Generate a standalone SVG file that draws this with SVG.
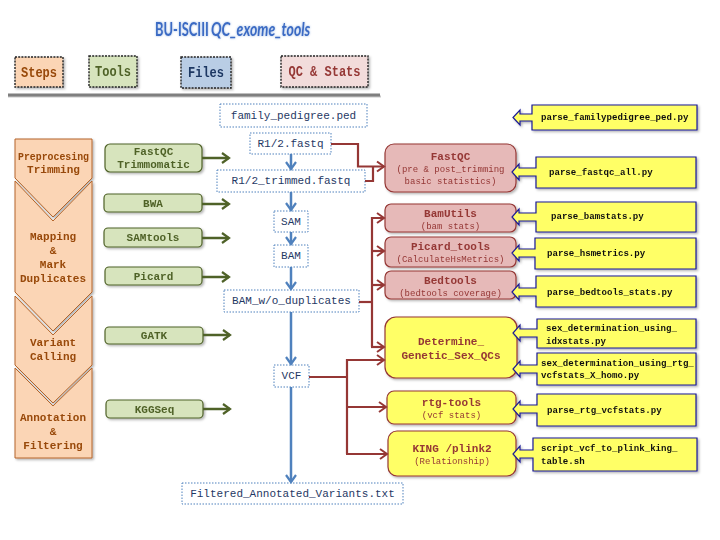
<svg xmlns="http://www.w3.org/2000/svg" width="720" height="540" viewBox="0 0 720 540">
<style>
  .mono{font-family:"Liberation Mono","DejaVu Sans Mono",monospace;}
  .hdr{font-family:"Liberation Mono","DejaVu Sans Mono",monospace;font-weight:bold;font-size:14px;text-anchor:middle;dominant-baseline:central;}
  .hbox{stroke:#222;stroke-width:1.4;stroke-dasharray:2 1.2;}
  .step{fill:#FBD5B5;stroke:#B5652A;stroke-width:1;}
  .steptxt{font-family:"Liberation Mono",monospace;font-weight:bold;font-size:11px;fill:#984807;text-anchor:middle;dominant-baseline:central;}
  .tool{fill:#D7E4BD;stroke:#4F6228;stroke-width:1.2;}
  .tooltxt{font-family:"Liberation Mono",monospace;font-weight:bold;font-size:11px;fill:#4F6228;text-anchor:middle;dominant-baseline:central;}
  .file{fill:#FFFFFF;stroke:#4F81BD;stroke-width:1;stroke-dasharray:1.5 1.5;}
  .filetxt{font-family:"Liberation Mono",monospace;font-size:11px;fill:#1F3864;text-anchor:middle;dominant-baseline:central;}
  .qcr{fill:#E6B9B8;stroke:#953735;stroke-width:1.2;}
  .qcy{fill:#FFFF66;stroke:#953735;stroke-width:1.2;}
  .qct{font-family:"Liberation Mono",monospace;font-weight:bold;font-size:11px;fill:#953735;text-anchor:middle;dominant-baseline:central;}
  .qcs{font-family:"Liberation Mono",monospace;font-size:9px;fill:#953735;text-anchor:middle;dominant-baseline:central;}
  .scr{fill:#FFFF66;stroke:#1A1A96;stroke-width:1.2;}
  .scrtxt{font-family:"Liberation Mono",monospace;font-weight:bold;font-size:9.1px;fill:#111;dominant-baseline:central;}
  .g{stroke:#4F6228;stroke-width:2.5;fill:none;}
  .b{stroke:#4F81BD;stroke-width:2.5;fill:none;}
  .r{stroke:#953735;stroke-width:2.2;fill:none;}
  .ttl{font-family:Lato,"Open Sans",sans-serif;font-weight:bold;font-size:19px;fill:#3A6BC4;}
</style>
<defs>
  <filter id="sh" x="-10%" y="-10%" width="130%" height="140%">
    <feDropShadow dx="1.5" dy="1.5" stdDeviation="1" flood-color="#000" flood-opacity="0.3"/>
  </filter>
  <filter id="glow" x="-10%" y="-30%" width="120%" height="160%">
    <feDropShadow dx="0" dy="0" stdDeviation="1.2" flood-color="#8FB0E0" flood-opacity="0.9"/>
  </filter>
  <marker id="ag" markerUnits="userSpaceOnUse" markerWidth="12" markerHeight="12" refX="8" refY="5" orient="auto" overflow="visible">
    <path d="M1,0 L8,5 L1,10" fill="none" stroke="#4F6228" stroke-width="2.2"/>
  </marker>
  <marker id="ab" markerUnits="userSpaceOnUse" markerWidth="12" markerHeight="12" refX="8" refY="5" orient="auto" overflow="visible">
    <path d="M1,0 L8,5 L1,10" fill="none" stroke="#4F81BD" stroke-width="2.2"/>
  </marker>
  <marker id="ar" markerUnits="userSpaceOnUse" markerWidth="12" markerHeight="12" refX="8" refY="5" orient="auto" overflow="visible">
    <path d="M1,0 L8,5 L1,10" fill="none" stroke="#953735" stroke-width="2"/>
  </marker>
</defs>
<rect width="720" height="540" fill="#FFFFFF"/>

<!-- Title -->
<g id="title" filter="url(#glow)">
  <g transform="translate(155,36) scale(0.68,1)">
    <text class="ttl" x="0" y="0">BU-ISCIII</text>
  </g>
  <g transform="translate(211,36) scale(0.74,1)">
    <text class="ttl" x="0" y="0" font-style="italic">QC_exome_tools</text>
  </g>
</g>

<!-- Headers -->
<g id="hdr-steps" filter="url(#sh)">
  <rect class="hbox" x="15" y="57" width="48" height="30" fill="#FBD5B5"/>
  <text class="hdr" x="39" y="73" fill="#984807" textLength="36" lengthAdjust="spacingAndGlyphs">Steps</text>
</g>
<g id="hdr-tools" filter="url(#sh)">
  <rect class="hbox" x="89" y="56" width="48" height="31" fill="#D7E4BD"/>
  <text class="hdr" x="113" y="72" fill="#4F6228" textLength="36" lengthAdjust="spacingAndGlyphs">Tools</text>
</g>
<g id="hdr-files" filter="url(#sh)">
  <rect class="hbox" x="181" y="57" width="50" height="31" fill="#B9CDE5"/>
  <text class="hdr" x="206" y="73" fill="#1F3864" textLength="36" lengthAdjust="spacingAndGlyphs">Files</text>
</g>
<g id="hdr-qc" filter="url(#sh)">
  <rect class="hbox" x="281" y="56" width="87" height="31" fill="#F2DCDB"/>
  <text class="hdr" x="324.5" y="72" fill="#953735" textLength="72" lengthAdjust="spacingAndGlyphs">QC &amp; Stats</text>
</g>
<g id="rule">
  <line x1="8" y1="96.5" x2="381" y2="96.5" stroke="#C8C8C8" stroke-width="2"/>
  <line x1="8" y1="95" x2="380" y2="95" stroke="#7F7F7F" stroke-width="3"/>
</g>

<!-- Steps -->
<g id="step-preprocessing" filter="url(#sh)">
  <polygon class="step" points="15,139 92,139 92,178 53,217 15,178"/>
  <text class="steptxt" x="53.5" y="157" font-size="10" textLength="71" lengthAdjust="spacingAndGlyphs">Preprocesing</text>
  <text class="steptxt" x="53.5" y="170" font-size="10">Trimming</text>
</g>
<g id="step-mapping" filter="url(#sh)">
  <polygon class="step" points="15,181 53,221 92,181 92,292 53,331 15,292"/>
  <text class="steptxt" x="53" y="237">Mapping</text>
  <text class="steptxt" x="53" y="251">&amp;</text>
  <text class="steptxt" x="53" y="265">Mark</text>
  <text class="steptxt" x="53" y="279">Duplicates</text>
</g>
<g id="step-variant" filter="url(#sh)">
  <polygon class="step" points="15,296 53,335 92,296 92,365 53,403 15,365"/>
  <text class="steptxt" x="53" y="343">Variant</text>
  <text class="steptxt" x="53" y="357">Calling</text>
</g>
<g id="step-annotation" filter="url(#sh)">
  <polygon class="step" points="15,368 53,406 92,368 92,458 15,458"/>
  <text class="steptxt" x="53" y="418">Annotation</text>
  <text class="steptxt" x="53" y="432">&amp;</text>
  <text class="steptxt" x="53" y="446">Filtering</text>
</g>

<!-- Tools -->
<g id="tool-fastqc" filter="url(#sh)">
  <rect class="tool" x="105" y="144" width="97" height="28" rx="5"/>
  <text class="tooltxt" x="153.5" y="152">FastQC</text>
  <text class="tooltxt" x="153.5" y="165">Trimmomatic</text>
</g>
<g id="tool-bwa" filter="url(#sh)">
  <rect class="tool" x="104" y="194" width="98" height="18" rx="4"/>
  <text class="tooltxt" x="153" y="204">BWA</text>
</g>
<g id="tool-samtools" filter="url(#sh)">
  <rect class="tool" x="104" y="228" width="98" height="19" rx="4"/>
  <text class="tooltxt" x="153" y="238">SAMtools</text>
</g>
<g id="tool-picard" filter="url(#sh)">
  <rect class="tool" x="105" y="267" width="97" height="18" rx="4"/>
  <text class="tooltxt" x="153.5" y="277">Picard</text>
</g>
<g id="tool-gatk" filter="url(#sh)">
  <rect class="tool" x="105" y="327" width="98" height="17" rx="4"/>
  <text class="tooltxt" x="154" y="336">GATK</text>
</g>
<g id="tool-kggseq" filter="url(#sh)">
  <rect class="tool" x="106" y="400" width="97" height="18" rx="4"/>
  <text class="tooltxt" x="154.5" y="410">KGGSeq</text>
</g>

<!-- Files -->
<g id="file-ped">
  <rect class="file" x="220" y="104" width="147" height="23"/>
  <text class="filetxt" x="293.5" y="116">family_pedigree.ped</text>
</g>
<g id="file-fastq">
  <rect class="file" x="250" y="133" width="81" height="21"/>
  <text class="filetxt" x="290.5" y="144">R1/2.fastq</text>
</g>
<g id="file-trimmed">
  <rect class="file" x="217" y="170" width="148" height="22"/>
  <text class="filetxt" x="291" y="181">R1/2_trimmed.fastq</text>
</g>
<g id="file-sam">
  <rect class="file" x="274" y="211" width="34" height="21"/>
  <text class="filetxt" x="291" y="222">SAM</text>
</g>
<g id="file-bam">
  <rect class="file" x="274" y="245" width="34" height="22"/>
  <text class="filetxt" x="291" y="256">BAM</text>
</g>
<g id="file-bamdedup">
  <rect class="file" x="224" y="290" width="135" height="22"/>
  <text class="filetxt" x="291.5" y="301">BAM_w/o_duplicates</text>
</g>
<g id="file-vcf">
  <rect class="file" x="274" y="365" width="35" height="22"/>
  <text class="filetxt" x="291.5" y="376">VCF</text>
</g>
<g id="file-filtered">
  <rect class="file" x="182" y="483" width="221" height="21"/>
  <text class="filetxt" x="292.5" y="494">Filtered_Annotated_Variants.txt</text>
</g>

<!-- QC boxes -->
<g id="qc-fastqc" filter="url(#sh)">
  <rect class="qcr" x="385" y="144" width="131" height="48" rx="9"/>
  <text class="qct" x="450.5" y="157">FastQC</text>
  <text class="qcs" x="450.5" y="170">(pre &amp; post_trimming</text>
  <text class="qcs" x="450.5" y="182">basic statistics)</text>
</g>
<g id="qc-bamutils" filter="url(#sh)">
  <rect class="qcr" x="385" y="204" width="131" height="28" rx="6"/>
  <text class="qct" x="450.5" y="214">BamUtils</text>
  <text class="qcs" x="450.5" y="227">(bam stats)</text>
</g>
<g id="qc-picard" filter="url(#sh)">
  <rect class="qcr" x="385" y="237" width="131" height="30" rx="6"/>
  <text class="qct" x="450.5" y="247">Picard_tools</text>
  <text class="qcs" x="450.5" y="259.5">(CalculateHsMetrics)</text>
</g>
<g id="qc-bedtools" filter="url(#sh)">
  <rect class="qcr" x="385" y="271" width="131" height="28" rx="6"/>
  <text class="qct" x="450.5" y="281">Bedtools</text>
  <text class="qcs" x="450.5" y="294">(bedtools coverage)</text>
</g>
<g id="qc-sex" filter="url(#sh)">
  <rect class="qcy" x="385" y="317" width="132" height="61" rx="11"/>
  <text class="qct" x="451" y="342">Determine_</text>
  <text class="qct" x="451" y="356">Genetic_Sex_QCs</text>
</g>
<g id="qc-rtg" filter="url(#sh)">
  <rect class="qcy" x="387" y="391" width="129" height="33" rx="7"/>
  <text class="qct" x="451.5" y="403">rtg-tools</text>
  <text class="qcs" x="451.5" y="416">(vcf stats)</text>
</g>
<g id="qc-king" filter="url(#sh)">
  <rect class="qcy" x="388" y="431" width="128" height="45" rx="9"/>
  <text class="qct" x="452" y="449">KING /plink2</text>
  <text class="qcs" x="452" y="462">(Relationship)</text>
</g>

<!-- Scripts -->
<g id="scr-ped" filter="url(#sh)">
  <polygon class="scr" points="532,105 697,105 697,130 532,130 532,121 520,121 520,125 513,117.5 520,110 520,114 532,114"/>
  <text class="scrtxt" x="541" y="117">parse_familypedigree_ped.py</text>
</g>
<g id="scr-fastqc" filter="url(#sh)">
  <polygon class="scr" points="536,157 696,157 696,188 536,188 536,176 519,176 519,180 512,172 519,164 519,168 536,168"/>
  <text class="scrtxt" x="549" y="172">parse_fastqc_all.py</text>
</g>
<g id="scr-bamstats" filter="url(#sh)">
  <polygon class="scr" points="536,202 696,202 696,232 536,232 536,221 519,221 519,225 512,217 519,209 519,213 536,213"/>
  <text class="scrtxt" x="551" y="216">parse_bamstats.py</text>
</g>
<g id="scr-hsmetrics" filter="url(#sh)">
  <polygon class="scr" points="535,238 696,238 696,269 535,269 535,257 519,257 519,261 512,253 519,245 519,249 535,249"/>
  <text class="scrtxt" x="547" y="253">parse_hsmetrics.py</text>
</g>
<g id="scr-bedtools" filter="url(#sh)">
  <polygon class="scr" points="536,276 696,276 696,307 536,307 536,296 519,296 519,300 512,292 519,284 519,288 536,288"/>
  <text class="scrtxt" x="547" y="292">parse_bedtools_stats.py</text>
</g>
<g id="scr-sex-idx" filter="url(#sh)">
  <polygon class="scr" points="537,319 696,319 696,348 537,348 537,337 520,337 520,341 513,333 520,325 520,329 537,329"/>
  <text class="scrtxt" x="546" y="328">sex_determination_using_</text>
  <text class="scrtxt" x="546" y="341">idxstats.py</text>
</g>
<g id="scr-sex-rtg" filter="url(#sh)">
  <polygon class="scr" points="537,353 696,353 696,385 537,385 537,373 520,373 520,377 513,369 520,361 520,365 537,365"/>
  <text class="scrtxt" x="541" y="363">sex_determination_using_rtg_</text>
  <text class="scrtxt" x="541" y="375">vcfstats_X_homo.py</text>
</g>
<g id="scr-rtg" filter="url(#sh)">
  <polygon class="scr" points="537,394 696,394 696,426 537,426 537,413 520,413 520,417 513,409 520,401 520,405 537,405"/>
  <text class="scrtxt" x="547" y="410">parse_rtg_vcfstats.py</text>
</g>
<g id="scr-king" filter="url(#sh)">
  <polygon class="scr" points="533,438 697,438 697,471 533,471 533,458 520,458 520,462 513,454 520,446 520,450 533,450"/>
  <text class="scrtxt" x="541" y="448">script_vcf_to_plink_king_</text>
  <text class="scrtxt" x="541" y="461">table.sh</text>
</g>

<!-- Connectors -->
<g id="connectors">
  <!-- tools to files -->
  <line class="g" x1="202" y1="158" x2="229" y2="158" marker-end="url(#ag)"/>
  <line class="g" x1="202" y1="204" x2="229" y2="204" marker-end="url(#ag)"/>
  <line class="g" x1="202" y1="238" x2="229" y2="238" marker-end="url(#ag)"/>
  <line class="g" x1="202" y1="277" x2="229" y2="277" marker-end="url(#ag)"/>
  <line class="g" x1="203" y1="335" x2="230" y2="335" marker-end="url(#ag)"/>
  <line class="g" x1="203" y1="409" x2="230" y2="409" marker-end="url(#ag)"/>
  <!-- file flow -->
  <line class="b" x1="291" y1="154" x2="291" y2="169" marker-end="url(#ab)"/>
  <line class="b" x1="291" y1="192" x2="291" y2="210" marker-end="url(#ab)"/>
  <line class="b" x1="291" y1="232" x2="291" y2="244" marker-end="url(#ab)"/>
  <line class="b" x1="291" y1="267" x2="291" y2="289" marker-end="url(#ab)"/>
  <line class="b" x1="291" y1="312" x2="291" y2="364" marker-end="url(#ab)"/>
  <line class="b" x1="291" y1="387" x2="291" y2="482" marker-end="url(#ab)"/>
  <!-- QC links -->
  <path class="r" d="M331,144 H358 V166.5 H384" marker-end="url(#ar)"/>
  <path class="r" d="M365,181 H373 V166.5"/>
  <path class="r" d="M359,302 H372" stroke-width="3.5"/>
  <path class="r" d="M372,347 V218 H384" marker-end="url(#ar)"/>
  <path class="r" d="M372,251 H384" marker-end="url(#ar)"/>
  <path class="r" d="M372,285 H384" marker-end="url(#ar)"/>
  <path class="r" d="M371,347 H384" marker-end="url(#ar)"/>
  <path class="r" d="M309,377 H347" stroke-width="3.5"/>
  <path class="r" d="M347,454 V360 H384" marker-end="url(#ar)"/>
  <path class="r" d="M347,407 H386" marker-end="url(#ar)"/>
  <path class="r" d="M346,454 H387" marker-end="url(#ar)"/>
</g>
</svg>
